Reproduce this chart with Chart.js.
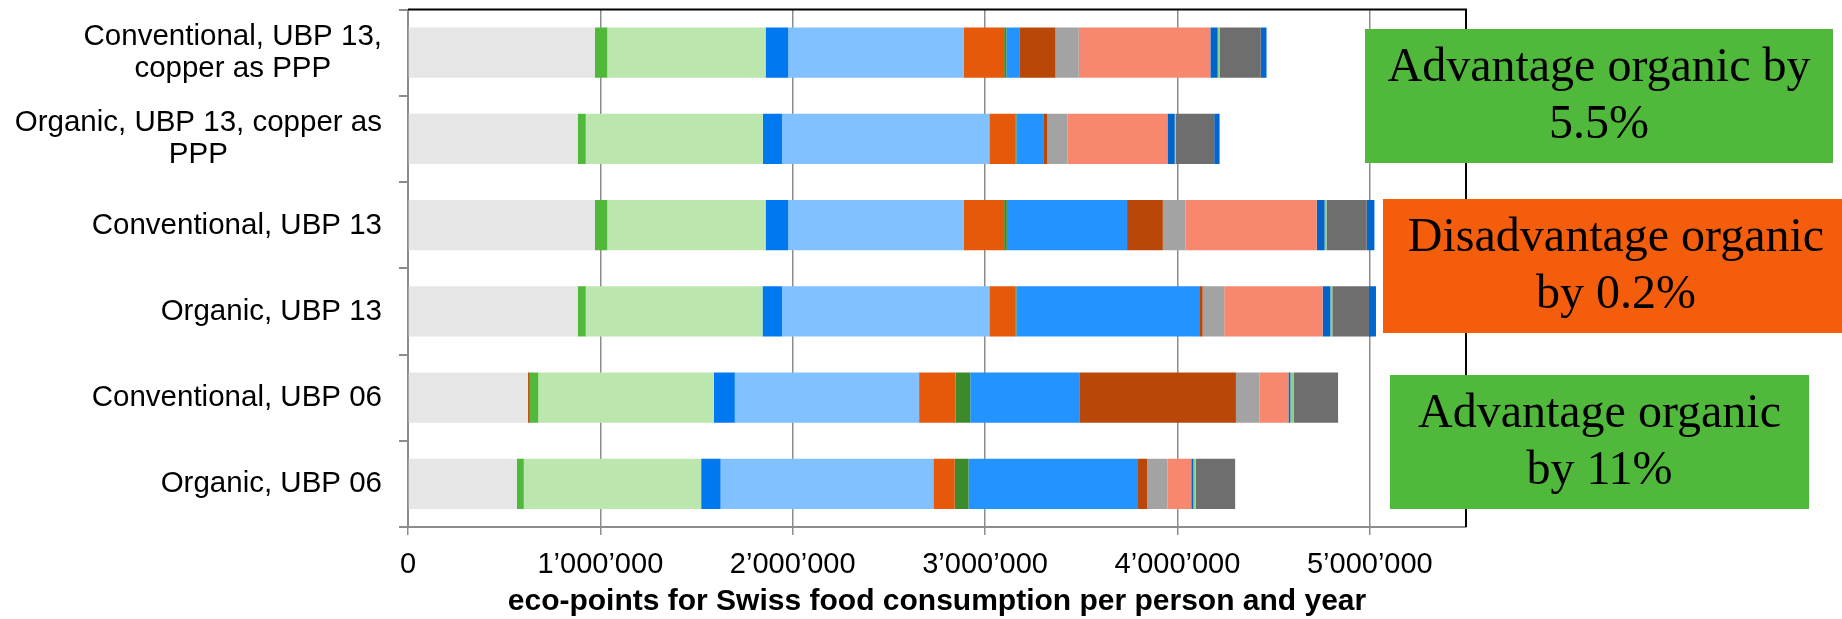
<!DOCTYPE html>
<html>
<head>
<meta charset="utf-8">
<script src="https://cdn.jsdelivr.net/npm/chart.js@4/dist/chart.umd.min.js"></script>
<style>
  html, body { margin: 0; padding: 0; background: #fff; }
  #wrap { width: 1842px; height: 619px; position: relative; }
</style>
</head>
<body>
<div id="wrap"><canvas id="eco-chart"></canvas></div>
<script>
const categories = [
  ['Conventional, UBP 13,', 'copper as PPP'],
  ['Organic, UBP 13, copper as', 'PPP'],
  'Conventional, UBP 13',
  'Organic, UBP 13',
  'Conventional, UBP 06',
  'Organic, UBP 06'
];

const xTickValues = [0, 1000000, 2000000, 3000000, 4000000, 5000000];
const xTickLabels = ['0', '1’000’000', '2’000’000', '3’000’000', '4’000’000', '5’000’000'];
const xMax = 5500000;
const xTitle = 'eco-points for Swiss food consumption per person and year';

// stacked components, left to right (legend not shown in the source)
const seg01 = [972000, 882000, 972000, 882000, 624000, 566000];
const seg02 = [0, 0, 0, 0, 9000, 0];
const seg03 = [64000, 42000, 64000, 42000, 44000, 36000];
const seg04 = [823000, 921000, 823000, 919000, 913000, 922000];
const seg05 = [117000, 99000, 117000, 101000, 109000, 101000];
const seg06 = [914000, 1078000, 914000, 1078000, 958000, 1106000];
const seg07 = [209000, 135000, 209000, 135000, 189000, 111000];
const seg08 = [12000, 6000, 14000, 6000, 77000, 72000];
const seg09 = [70000, 143000, 625000, 950000, 570000, 881000];
const seg10 = [185000, 18000, 186000, 18000, 811000, 48000];
const seg11 = [121000, 105000, 118000, 112000, 123000, 105000];
const seg12 = [684000, 519000, 682000, 512000, 150000, 124000];
const seg13 = [38000, 38000, 41000, 40000, 10000, 11000];
const seg14 = [10000, 6000, 10000, 10000, 19000, 12000];
const seg15 = [214000, 199000, 209000, 191000, 229000, 205000];
const seg16 = [30000, 28000, 40000, 36000, 0, 0];

const noteTexts = [
  ['Advantage organic by', '5.5%'],
  ['Disadvantage organic', 'by 0.2%'],
  ['Advantage organic', 'by 11%']
];

const segments = [seg01, seg02, seg03, seg04, seg05, seg06, seg07, seg08,
  seg09, seg10, seg11, seg12, seg13, seg14, seg15, seg16];
const segColors = ['#e6e6e6', '#b94708', '#50b83a', '#bbe6ad', '#0078f0', '#82c1ff',
  '#e6590a', '#3d8a2c', '#2393ff', '#b94708', '#a3a3a3', '#f7886f',
  '#0064c8', '#8ad08a', '#6e6e6e', '#0066d0'];

const noteBoxes = [
  { x: 1365, y: 29, w: 468, h: 134, color: '#50b83a' },
  { x: 1383, y: 199, w: 466, h: 134, color: '#f35d0c' },
  { x: 1390, y: 375, w: 419, h: 134, color: '#50b83a' }
];

const sans = '"Liberation Sans", Arial, sans-serif';
const axisGray = '#8c8c8c';

const textPlugin = {
  id: 'textLayer',
  afterDatasetsDraw(chart) {
    const { ctx, chartArea } = chart;
    // top and right frame
    ctx.save();
    ctx.strokeStyle = '#000';
    ctx.lineWidth = 2;
    ctx.beginPath();
    ctx.moveTo(chartArea.left, chartArea.top);
    ctx.lineTo(chartArea.right, chartArea.top);
    ctx.lineTo(chartArea.right, chartArea.bottom);
    ctx.stroke();
    ctx.restore();
  },
  afterDraw(chart) {
    const { ctx, chartArea } = chart;
    const yScale = chart.scales.y;
    const xScale = chart.scales.x;
    ctx.save();
    ctx.fillStyle = '#000';
    ctx.textAlign = 'center';
    ctx.textBaseline = 'alphabetic';

    // category labels, each block right aligned, lines centred
    ctx.font = '29.5px ' + sans;
    categories.forEach((label, i) => {
      const lines = Array.isArray(label) ? label : [label];
      const maxW = Math.max(...lines.map(l => ctx.measureText(l).width));
      const cx = 382 - maxW / 2;
      const cy = yScale.getPixelForValue(i);
      const lineH = 32;
      lines.forEach((l, j) => {
        ctx.fillText(l, cx, cy + 8.5 - (lines.length - 1) * lineH / 2 + j * lineH);
      });
    });

    // value axis labels and title
    ctx.font = '29px ' + sans;
    xTickValues.forEach((v, i) => {
      ctx.fillText(xTickLabels[i], xScale.getPixelForValue(v), 573);
    });
    ctx.font = 'bold 30px ' + sans;
    ctx.fillText(xTitle, (chartArea.left + chartArea.right) / 2, 610);

    // annotation boxes
    ctx.textBaseline = 'middle';
    ctx.font = '48px "Liberation Serif", "Times New Roman", serif';
    noteBoxes.forEach((b, i) => {
      ctx.fillStyle = b.color;
      ctx.fillRect(b.x, b.y, b.w, b.h);
      ctx.fillStyle = '#000';
      const cx = b.x + b.w / 2;
      const cy = b.y + b.h / 2;
      ctx.fillText(noteTexts[i][0], cx, cy - 27.5);
      ctx.fillText(noteTexts[i][1], cx, cy + 29.5);
    });
    ctx.restore();
  }
};

new Chart(document.getElementById('eco-chart'), {
  type: 'bar',
  data: {
    labels: categories,
    datasets: segments.map((d, i) => ({
      label: 'component ' + (i + 1),
      data: d,
      backgroundColor: segColors[i],
      borderWidth: 0,
      barPercentage: 0.58,
      categoryPercentage: 1
    }))
  },
  options: {
    indexAxis: 'y',
    responsive: true,
    maintainAspectRatio: false,
    animation: false,
    layout: { padding: { left: 0, right: 376, top: 9.5, bottom: 0 } },
    plugins: {
      legend: { display: false },
      tooltip: { enabled: false }
    },
    scales: {
      x: {
        stacked: true,
        min: 0,
        max: xMax,
        afterDataLimits: (s) => { s.min = 0; s.max = xMax; },
        afterBuildTicks: (s) => {
          s.ticks = xTickValues.map(v => ({ value: v }));
          s.min = 0;
          s.max = xMax;
        },
        afterFit: (scale) => { scale.height = 92; },
        ticks: { display: false },
        grid: { color: axisGray, lineWidth: 1.5, tickLength: 8, drawTicks: true },
        border: { display: true, color: axisGray, width: 2 }
      },
      y: {
        stacked: true,
        afterFit: (scale) => { scale.width = 408; },
        ticks: { display: false },
        grid: { drawOnChartArea: false, drawTicks: true, tickLength: 9, color: axisGray, lineWidth: 2 },
        border: { display: true, color: axisGray, width: 2 }
      }
    }
  },
  plugins: [textPlugin]
});
</script>
</body>
</html>
